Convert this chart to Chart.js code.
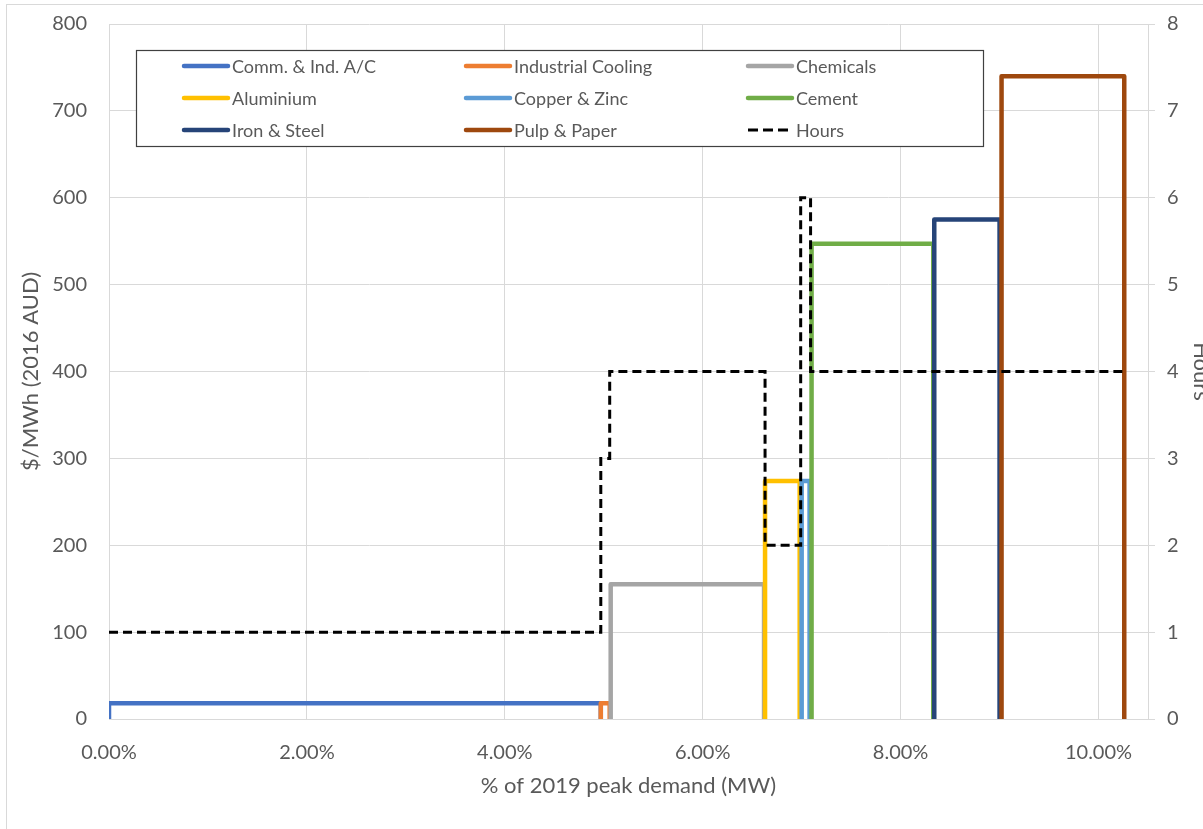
<!DOCTYPE html>
<html>
<head>
<meta charset="utf-8">
<title>Demand response cost curve</title>
<script src="https://cdn.jsdelivr.net/npm/chart.js@4"></script>
<style>
  html, body { margin: 0; padding: 0; background: #fff; overflow: hidden; }
  #frame {
    position: absolute; left: 6px; top: 4px; width: 1300px; height: 900px;
    border: 1px solid #d9d9d9; box-sizing: border-box;
  }
  #wrap { position: absolute; left: 0; top: 0; width: 1218px; height: 829px; }
</style>
</head>
<body>
<div id="frame"></div>
<div id="wrap"><canvas id="chart"></canvas></div>
<script>
// Sectors of the cost curve: each block spans [start, end] (% of peak) at a price ($/MWh)
const sectors = ['Comm. & Ind. A/C', 'Industrial Cooling', 'Chemicals', 'Aluminium',
  'Copper & Zinc', 'Cement', 'Iron & Steel', 'Pulp & Paper'];
const blockStart = [0, 4.97, 5.07, 6.63, 7.0, 7.1, 8.34, 9.02];
const blockEnd = [4.97, 5.06, 6.62, 6.98, 7.08, 8.33, 9.0, 10.26];
const blockPrice = [18, 18, 155, 274, 274, 547, 575, 740];
const sectorColors = ['#4472C4', '#ED7D31', '#A5A5A5', '#FFC000',
  '#5B9BD5', '#70AD47', '#264478', '#9E480E'];

// Hours (right axis), stepped: value holds from each x until the next
const hoursX = [0, 4.97, 5.06, 6.63, 6.99, 7.09, 10.26];
const hoursY = [1, 3, 4, 2, 6, 4, 4];

const xTicks = [0, 2, 4, 6, 8, 10];

const TEXT = '#595959';
const GRID = '#d9d9d9';
const FONT = 'Lato, "Open Sans", sans-serif';

const datasets = sectors.map((name, i) => ({
  label: name,
  data: [
    { x: blockStart[i], y: 0 },
    { x: blockStart[i], y: blockPrice[i] },
    { x: blockEnd[i], y: blockPrice[i] },
    { x: blockEnd[i], y: 0 },
  ],
  borderColor: sectorColors[i],
  backgroundColor: sectorColors[i],
  borderWidth: 4.5,
  borderJoinStyle: 'round',
  showLine: true,
  pointRadius: 0,
  yAxisID: 'y',
  order: sectors.length - i,
}));

datasets.push({
  label: 'Hours',
  data: hoursX.map((x, i) => ({ x, y: hoursY[i] })),
  borderColor: '#000',
  backgroundColor: '#000',
  borderWidth: 3,
  borderDash: [9, 5],
  stepped: 'before',
  showLine: true,
  pointRadius: 0,
  yAxisID: 'y2',
  order: 0,
});

// Boxed legend in three columns inside the plot
const boxLegend = {
  id: 'boxLegend',
  afterDraw(chart) {
    const ctx = chart.ctx;
    const left = 136, top = 50, w = 847, h = 96;
    ctx.save();
    ctx.fillStyle = '#fff';
    ctx.fillRect(left, top, w, h);
    ctx.strokeStyle = '#404040';
    ctx.lineWidth = 1.2;
    ctx.strokeRect(left + 0.5, top + 0.5, w, h);
    ctx.font = '18px ' + FONT;
    ctx.textBaseline = 'middle';
    chart.data.datasets.forEach((ds, i) => {
      const col = i % 3, row = Math.floor(i / 3);
      const x = 184 + col * 282;
      const y = 66 + row * 32;
      ctx.beginPath();
      ctx.strokeStyle = ds.borderColor;
      ctx.lineWidth = ds.borderDash ? 3 : 4.5;
      ctx.lineCap = ds.borderDash ? 'butt' : 'round';
      ctx.setLineDash(ds.borderDash ? [10, 5] : []);
      ctx.moveTo(x, y);
      ctx.lineTo(x + 44, y);
      ctx.stroke();
      ctx.setLineDash([]);
      ctx.fillStyle = TEXT;
      ctx.fillText(ds.label, x + 48, y + 1);
    });
    ctx.restore();
  },
};

// vertical axes: keep their label overhang from pushing the plot down
const noOverhang = (w) => (s) => {
  s.width = w;
  s.paddingTop = 0;
  s.paddingBottom = 0;
};

new Chart(document.getElementById('chart'), {
  type: 'scatter',
  data: { datasets },
  options: {
    responsive: true,
    maintainAspectRatio: false,
    animation: false,
    layout: { padding: { top: 24, left: 0, right: 0, bottom: 30 } },
    plugins: {
      legend: { display: false },
      tooltip: { enabled: false },
    },
    scales: {
      x: {
        type: 'linear',
        min: 0,
        max: 10.5,
        afterBuildTicks: (s) => { s.ticks = xTicks.map((v) => ({ value: v })); },
        afterFit: (s) => { s.height = 80; },
        ticks: {
          color: TEXT,
          font: { family: FONT, size: 20 },
          padding: 22,
          maxRotation: 0,
          callback: (v) => v.toFixed(2) + '%',
        },
        grid: { color: GRID, drawTicks: false },
        border: { color: GRID },
        title: {
          display: true,
          text: '% of 2019 peak demand (MW)',
          color: TEXT,
          font: { family: FONT, size: 22 },
          padding: { top: 4, bottom: 0 },
        },
      },
      y: {
        position: 'left',
        min: 0,
        max: 800,
        afterFit: noOverhang(109),
        ticks: {
          stepSize: 100,
          color: TEXT,
          font: { family: FONT, size: 20 },
          padding: 22,
        },
        grid: { color: GRID, drawTicks: false },
        border: { color: GRID },
        title: {
          display: true,
          text: '$/MWh (2016 AUD)',
          color: TEXT,
          font: { family: FONT, size: 22 },
          padding: { top: 18, bottom: 0 },
        },
      },
      y2: {
        position: 'right',
        min: 0,
        max: 8,
        afterFit: noOverhang(70),
        ticks: {
          stepSize: 1,
          color: TEXT,
          font: { family: FONT, size: 20 },
          padding: 12,
        },
        grid: { drawOnChartArea: false, color: GRID, tickLength: 7 },
        border: { color: GRID },
        title: {
          display: true,
          text: 'Hours',
          color: TEXT,
          font: { family: FONT, size: 22 },
          padding: { top: 4, bottom: 0 },
        },
      },
    },
  },
  plugins: [boxLegend],
});
</script>
</body>
</html>
